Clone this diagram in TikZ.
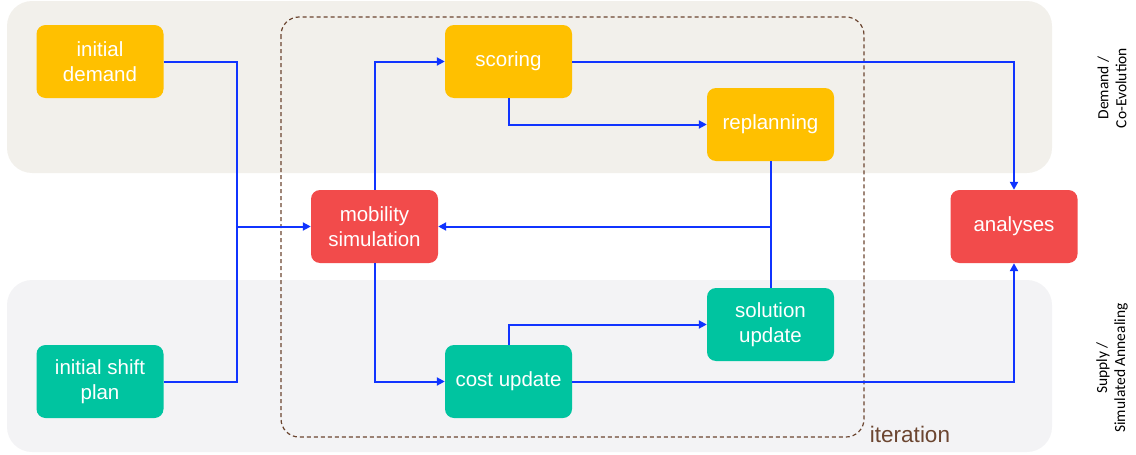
\documentclass[tikz,border=0pt]{standalone}
\usepackage{fontspec}
\setmainfont{Liberation Sans}
\newfontfamily\sidefont{Carlito}
\usetikzlibrary{arrows.meta}
\definecolor{bandA}{HTML}{F2F0EB}
\definecolor{bandB}{HTML}{F3F3F5}
\definecolor{yel}{HTML}{FFC000}
\definecolor{redn}{HTML}{F24B4B}
\definecolor{grn}{HTML}{00C4A0}
\definecolor{conn}{HTML}{1034FF}
\definecolor{itbrown}{HTML}{6B4530}
\tikzset{
  box/.style={rounded corners=9pt, minimum width=127pt, minimum height=73pt, align=center,
    text=white, font=\fontsize{20.5}{25}\selectfont, inner sep=0pt},
  ybox/.style={box, fill=yel},
  rbox/.style={box, fill=redn},
  gbox/.style={box, fill=grn},
  conn/.style={draw=conn, line width=2pt, -{Triangle[length=8pt,width=8pt]}},
  connx/.style={draw=conn, line width=2pt},
  side/.style={rotate=90, align=center, font=\sidefont\fontsize{15.5}{18}\selectfont}
}
\begin{document}
\begin{tikzpicture}[x=1pt,y=-1pt]
\useasboundingbox (0,0) rectangle (1136,455);
% bands
\fill[bandA, rounded corners=25pt] (7,1) rectangle (1052,173);
\fill[bandB, rounded corners=25pt] (7,280) rectangle (1052,452);
% iteration box
\draw[itbrown, line width=1.2pt, dash pattern=on 4pt off 3pt, rounded corners=18pt] (281,17) rectangle (864,437);
\node[text=itbrown, font=\fontsize{22.5}{26}\selectfont, anchor=base] (it) at (910,442) {iteration};
% side labels
\node[side] (sd) at (1112,88) {Demand /\\Co-Evolution};
\node[side] (ss) at (1112,368) {Supply /\\Simulated Annealing};
% nodes
\node[ybox] (idem) at (100,61.5) {initial\\demand};
\node[ybox] (score) at (508.5,61.5) {scoring};
\node[ybox] (repl) at (770.5,124.5) {replanning};
\node[rbox] (mob) at (374.5,226.5) {mobility\\simulation};
\node[rbox] (ana) at (1014,226.5) {analyses};
\node[gbox] (ishift) at (100,381.5) {initial shift\\plan};
\node[gbox] (cost) at (508.5,381.5) {cost update};
\node[gbox] (sol) at (770.5,324.5) {solution\\update};
% merge coordinates
\coordinate (m1) at (237,226.5);
\coordinate (m2) at (770.5,226.5);
% connectors
\draw[connx] (idem.east) -| (m1);
\draw[connx] (ishift.east) -| (m1);
\draw[conn] (m1) -- (mob.west);
\draw[conn] (mob.north) |- (score.west);
\draw[conn] (score.east) -| (ana.north);
\draw[conn] (score.south) |- (repl.west);
\draw[connx] (repl.south) -- (m2);
\draw[connx] (sol.north) -- (m2);
\draw[conn] (m2) -- (mob.east);
\draw[conn] (mob.south) |- (cost.west);
\draw[conn] (cost.north) |- (sol.west);
\draw[conn] (cost.east) -| (ana.south);
\end{tikzpicture}
\end{document}
